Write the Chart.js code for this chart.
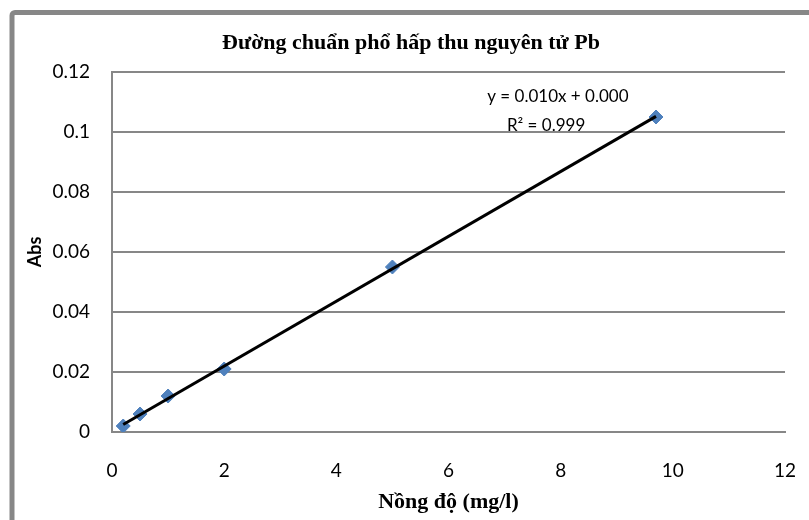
<!DOCTYPE html>
<html>
<head>
<meta charset="utf-8">
<script src="https://cdn.jsdelivr.net/npm/chart.js@4/dist/chart.umd.min.js"></script>
<style>
  html, body { margin: 0; padding: 0; background: #fff; overflow: hidden; }
  #wrap { width: 809px; height: 520px; position: relative; }
  canvas { display: block; }
</style>
</head>
<body>
<div id="wrap"><canvas id="chart"></canvas></div>
<script>
// data
const concentrations = [0.2, 0.5, 1, 2, 5, 9.7];
const absorbances = [0.002, 0.006, 0.012, 0.021, 0.055, 0.105];
const xTickLabels = ['0', '2', '4', '6', '8', '10', '12'];
const yTickLabels = ['0', '0.02', '0.04', '0.06', '0.08', '0.1', '0.12'];

const TITLE = 'Đường chuẩn phổ hấp thu nguyên tử Pb';
const EQUATION = 'y = 0.010x + 0.000';
const RSQUARED = 'R² = 0.999';
const GRID = '#878787';

// least squares fit for the trendline
function LinearFit(xs, ys) {
  let n = xs.length, mx = 0, my = 0;
  for (let i = 0; i < n; ++i) { mx += xs[i]; my += ys[i]; }
  mx /= n; my /= n;
  let sxy = 0, sxx = 0;
  for (let i = 0; i < n; ++i) {
    sxy += (xs[i] - mx) * (ys[i] - my);
    sxx += (xs[i] - mx) * (xs[i] - mx);
  }
  const slope = sxy / sxx;
  return { slope: slope, intercept: my - slope * mx };
}

const fit = LinearFit(concentrations, absorbances);
const xFirst = concentrations[0];
const xLast = concentrations[concentrations.length - 1];
const trend = [
  { x: xFirst, y: fit.slope * xFirst + fit.intercept },
  { x: xLast, y: fit.slope * xLast + fit.intercept }
];

const points = concentrations.map((c, i) => ({ x: c, y: absorbances[i] }));

const decorations = {
  id: 'decorations',
  beforeDraw(chart) {
    const ctx = chart.ctx;
    ctx.save();
    ctx.fillStyle = '#fff';
    ctx.fillRect(0, 0, chart.width, chart.height);
    // outer frame
    ctx.strokeStyle = GRID;
    ctx.lineWidth = 5;
    ctx.beginPath();
    ctx.roundRect(12, 12.5, 900, 700, 3);
    ctx.stroke();
    ctx.restore();
  },
  afterDraw(chart) {
    const ctx = chart.ctx;
    const xs = chart.scales.x, ys = chart.scales.y;
    ctx.save();
    ctx.fillStyle = '#000';
    ctx.textAlign = 'center';
    ctx.textBaseline = 'middle';
    ctx.font = 'bold 22px "Liberation Serif", serif';
    ctx.fillText(TITLE, 411, 43);
    ctx.font = '17px Lato, sans-serif';
    ctx.fillText(EQUATION, xs.getPixelForValue(7.95), ys.getPixelForValue(0.1117));
    ctx.fillText(RSQUARED, xs.getPixelForValue(7.74), ys.getPixelForValue(0.1023));
    ctx.restore();
  }
};

new Chart(document.getElementById('chart'), {
  type: 'scatter',
  data: {
    datasets: [
      {
        type: 'line',
        data: trend,
        borderColor: '#000',
        borderWidth: 3,
        pointRadius: 0,
        fill: false
      },
      {
        data: points,
        pointStyle: 'rectRot',
        pointRadius: 7,
        pointHoverRadius: 7,
        backgroundColor: '#4F81BD',
        borderColor: '#4F81BD',
        borderWidth: 1
      }
    ]
  },
  options: {
    responsive: true,
    maintainAspectRatio: false,
    animation: false,
    layout: { padding: { left: 14, top: 72, right: 24, bottom: 0 } },
    plugins: {
      legend: { display: false },
      title: { display: false },
      tooltip: { enabled: false }
    },
    scales: {
      x: {
        type: 'linear',
        min: 0,
        max: 12,
        afterFit: (scale) => {
          scale.height = 88;
          scale.paddingLeft = 0;
          scale.paddingRight = 0;
        },
        ticks: {
          stepSize: 2,
          padding: 27,
          color: '#000',
          font: { family: 'Lato', size: 19 },
          callback: (v, i) => xTickLabels[i]
        },
        grid: { display: false, drawTicks: false },
        border: { display: true, color: GRID, width: 2 },
        title: {
          display: true,
          text: 'Nồng độ (mg/l)',
          color: '#000',
          font: { family: 'Liberation Serif', size: 22, weight: 'bold' },
          padding: { top: 0, bottom: 4 }
        }
      },
      y: {
        min: 0,
        max: 0.12,
        afterFit: (scale) => { scale.width = 98; },
        ticks: {
          stepSize: 0.02,
          padding: 22,
          color: '#000',
          font: { family: 'Lato', size: 19 },
          callback: (v, i) => yTickLabels[i]
        },
        grid: { color: GRID, lineWidth: 2, drawTicks: false },
        border: { display: true, color: GRID, width: 2 },
        title: {
          display: true,
          text: 'Abs',
          color: '#000',
          font: { family: 'Lato', size: 18, weight: 'bold' },
          padding: { top: 10, bottom: 0 }
        }
      }
    }
  },
  plugins: [decorations]
});
</script>
</body>
</html>
